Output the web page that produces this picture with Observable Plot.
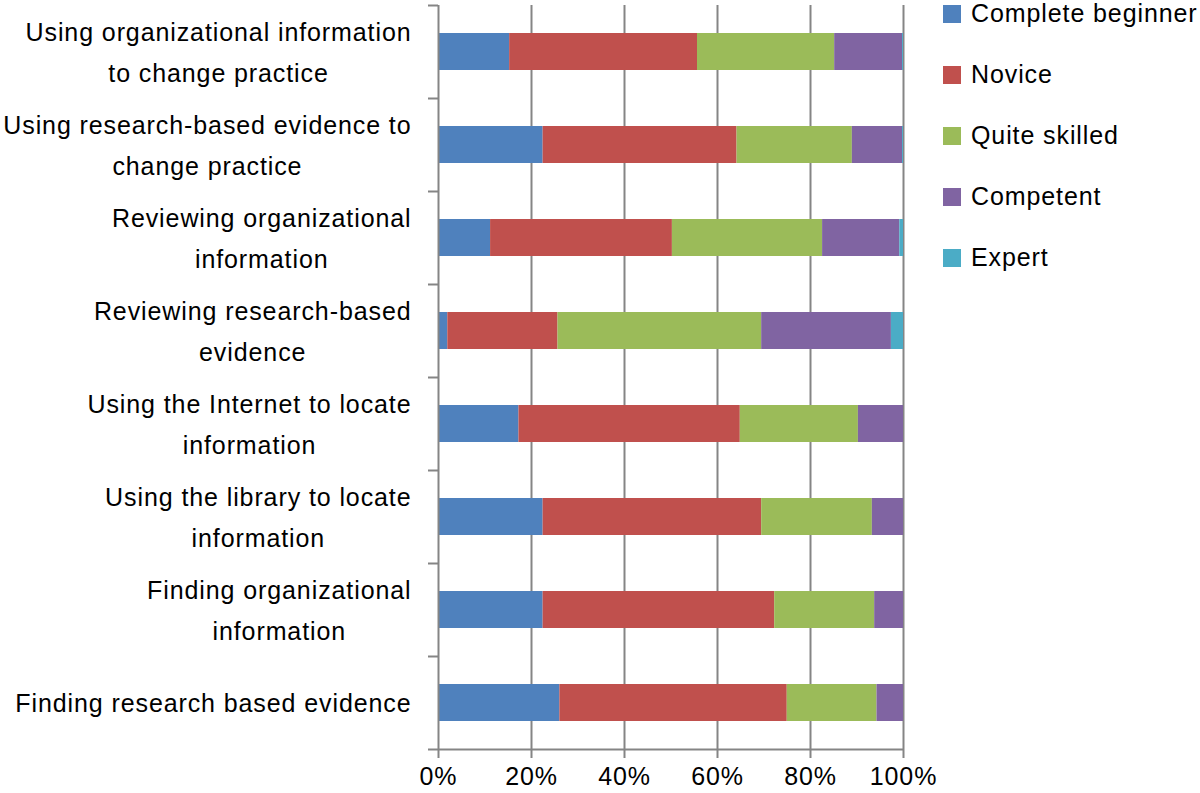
<!DOCTYPE html>
<html><head><meta charset="utf-8">
<script src="https://cdn.jsdelivr.net/npm/d3@7"></script>
<script src="https://cdn.jsdelivr.net/npm/@observablehq/plot@0.6"></script>
<style>
body{margin:0;background:#fff;font-family:'Liberation Sans',Arial,sans-serif;}
#wrap{position:relative;width:1200px;height:793px;overflow:hidden;}
#legend{position:absolute;left:943px;top:0;}
.item{position:absolute;left:0;display:flex;align-items:center;white-space:nowrap;font-size:25px;letter-spacing:0.9px;height:30px;color:#000;}
.sw{width:18px;height:18px;margin-right:10px;flex:none;}
</style></head><body><div id="wrap"><div id="legend"></div></div>
<script>
const categories = [
  "Using organizational information\nto change practice",
  "Using research-based evidence to\nchange practice",
  "Reviewing organizational\ninformation",
  "Reviewing research-based\nevidence",
  "Using the Internet to locate\ninformation",
  "Using the library to locate\ninformation",
  "Finding organizational\ninformation",
  "Finding research based evidence"
];
const levels = ["Complete beginner", "Novice", "Quite skilled", "Competent", "Expert"];
const colors = ["#4F81BD", "#C0504D", "#9BBB59", "#8064A2", "#4BACC6"];
const beginner  = [15.3, 22.5, 11.2,  2.0, 17.3, 22.5, 22.5, 26.1];
const novice    = [40.4, 41.7, 39.1, 23.7, 47.6, 47.0, 49.8, 48.9];
const skilled   = [29.5, 24.8, 32.3, 43.8, 25.4, 23.8, 21.5, 19.3];
const competent = [14.6, 10.8, 16.6, 27.9,  9.7,  6.7,  6.2,  5.7];
const expert    = [ 0.2,  0.2,  0.8,  2.6,  0.0,  0.0,  0.0,  0.0];
const xTicks = [0, 20, 40, 60, 80, 100];

const series = [beginner, novice, skilled, competent, expert];
const data = [];
categories.forEach((c, i) => levels.forEach((l, j) => data.push({cat: c, level: l, value: series[j][i]})));

const W = 1200, H = 793, mL = 438, mR = 297, mT = 5, mB = 44;
const step = (H - mT - mB) / categories.length;
const gray = "#858585";
const FONT = "'Liberation Sans', Arial, sans-serif";
const FS = 25, LS = 0.9;

const ctx = document.createElement("canvas").getContext("2d");
ctx.font = `${FS}px 'Liberation Sans'`;
const measure = s => ctx.measureText(s).width + s.length * LS;

const labelMarks = categories.map(c => {
  const w = d3.max(c.split("\n"), measure);
  return Plot.text([c], {y: d => d, text: d => d, frameAnchor: "left", textAnchor: "middle",
    dx: -27 - w / 2, dy: -4, lineHeight: 1.67, fontSize: FS, fill: "black"});
});

const chart = Plot.plot({
  width: W, height: H,
  marginLeft: mL, marginRight: mR, marginTop: mT, marginBottom: mB,
  style: {fontFamily: FONT, fontSize: FS + "px", letterSpacing: LS + "px", background: "white", color: "black"},
  x: {domain: [0, 100], axis: null},
  y: {domain: categories, paddingInner: 0.6, paddingOuter: 0.3, axis: null},
  color: {domain: levels, range: colors},
  marks: [
    Plot.gridX({ticks: xTicks.slice(1), stroke: gray, strokeOpacity: 1, strokeWidth: 2}),
    Plot.barX(data, {x: "value", y: "cat", fill: "level"}),
    Plot.ruleX([0], {stroke: gray, strokeWidth: 2}),
    Plot.ruleY([categories[categories.length - 1]], {x1: 0, x2: 100, dy: step / 2, stroke: gray, strokeWidth: 2}),
    Plot.axisX({ticks: xTicks, tickFormat: d => d + "%", tickSize: 9, tickPadding: 9, fontSize: FS,
      stroke: gray, strokeWidth: 2, fill: "black", label: null}),
    Plot.axisY({ticks: categories, tickFormat: () => "", tickSize: 10, dy: -step / 2, stroke: gray, strokeWidth: 2, label: null}),
    Plot.axisY({ticks: [categories[categories.length - 1]], tickFormat: () => "", tickSize: 10, dy: step / 2, stroke: gray, strokeWidth: 2, label: null}),
    ...labelMarks
  ]
});
document.getElementById("wrap").prepend(chart);

const legend = document.getElementById("legend");
levels.forEach((l, i) => {
  const item = document.createElement("div");
  item.className = "item";
  item.style.top = (13.5 + i * 61 - 15) + "px";
  const sw = document.createElement("div");
  sw.className = "sw";
  sw.style.background = colors[i];
  const t = document.createElement("span");
  t.textContent = l;
  item.append(sw, t);
  legend.append(item);
});
</script></body></html>
